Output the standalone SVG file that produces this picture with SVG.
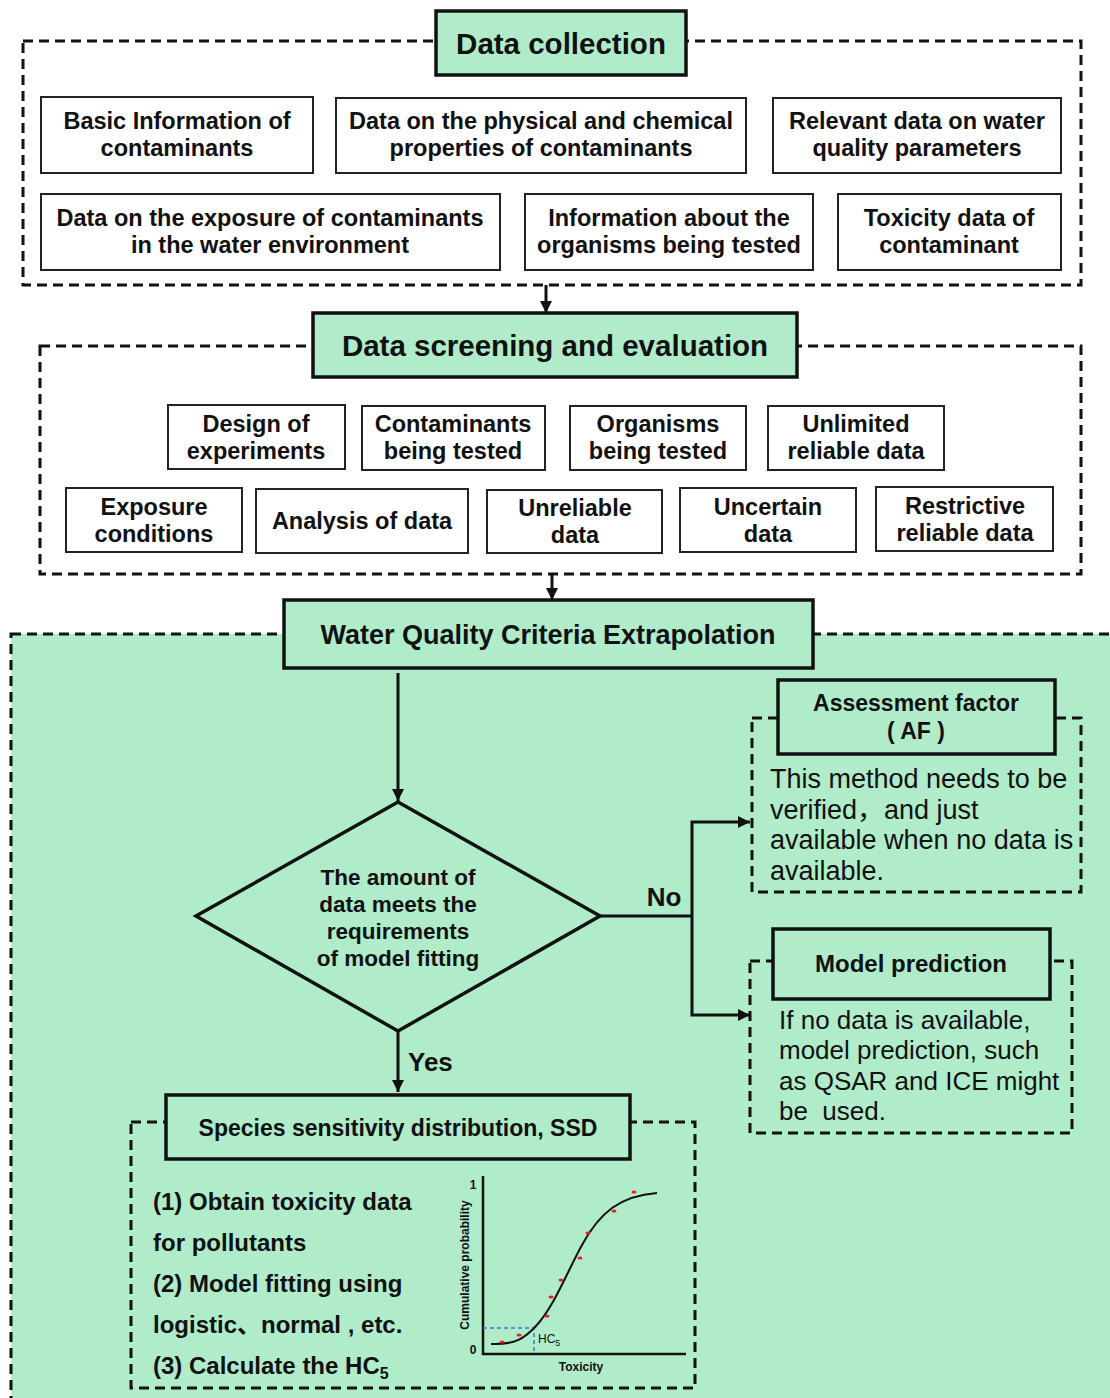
<svg xmlns="http://www.w3.org/2000/svg" width="1110" height="1398" viewBox="0 0 1110 1398">
<defs>
<marker id="ah" viewBox="0 0 10 10" refX="10" refY="5" markerWidth="4" markerHeight="4" orient="auto" markerUnits="strokeWidth">
<path d="M0,0 L10,5 L0,10 z" fill="#111"/>
</marker>
<style>
text{font-family:"Liberation Sans","Noto Sans CJK SC",sans-serif;fill:#111;text-anchor:middle}
.b{font-weight:bold;font-size:23.5px}
.t1{font-weight:bold;font-size:29.5px}
.t2{font-weight:bold;font-size:27px}
.t3{font-weight:bold;font-size:23px}
.dm{font-weight:bold;font-size:22.5px}
.body{font-size:27px;text-anchor:start}
.body2{font-size:26px;text-anchor:start}
.lst{font-weight:bold;font-size:24px;text-anchor:start}
.box{fill:#fff;stroke:#222;stroke-width:2}
.gbox{fill:#b0ecca;stroke:#111;stroke-width:3.5}
.dash{fill:none;stroke:#111;stroke-width:3;stroke-dasharray:10 6}
.line{fill:none;stroke:#111;stroke-width:3}
.sm{font-weight:bold;font-size:12px}
</style>
</defs>
<rect width="1110" height="1398" fill="#fff"/>

<g id="wqc-region">
<rect x="11" y="634" width="1110" height="780" fill="#b0ecca" stroke="#111" stroke-width="3" stroke-dasharray="10 6"/>
</g>

<g id="data-collection-group">
<rect class="dash" x="23" y="41" width="1058" height="244"/>
</g>
<g id="data-collection">
<rect class="gbox" x="436" y="11" width="250" height="64"/>
<text class="t1" x="561" y="54">Data collection</text>
</g>
<g id="basic-info"><rect class="box" x="41" y="97" width="272" height="76"/><text class="b" x="177" y="129">Basic Information of</text><text class="b" x="177" y="156">contaminants</text></g>
<g id="phys-chem"><rect class="box" x="336" y="98" width="410" height="75"/><text class="b" x="541" y="129">Data on the physical and chemical</text><text class="b" x="541" y="156">properties of contaminants</text></g>
<g id="water-quality"><rect class="box" x="773" y="98" width="288" height="75"/><text class="b" x="917" y="129">Relevant data on water</text><text class="b" x="917" y="156">quality parameters</text></g>
<g id="exposure-data"><rect class="box" x="41" y="194" width="459" height="76"/><text class="b" x="270" y="226">Data on the exposure of contaminants</text><text class="b" x="270" y="253">in the water environment</text></g>
<g id="organisms-info"><rect class="box" x="525" y="194" width="288" height="76"/><text class="b" x="669" y="226">Information about the</text><text class="b" x="669" y="253">organisms being tested</text></g>
<g id="toxicity-data"><rect class="box" x="838" y="194" width="223" height="76"/><text class="b" x="949" y="226">Toxicity data of</text><text class="b" x="949" y="253">contaminant</text></g>

<g id="screening-group">
<rect class="dash" x="40" y="346" width="1041" height="228"/>
</g>
<g id="data-screening">
<rect class="gbox" x="313" y="313" width="484" height="64"/>
<text class="t1" x="555" y="356">Data screening and evaluation</text>
</g>
<g id="design"><rect class="box" x="168" y="405" width="177" height="64"/><text class="b" x="256" y="432">Design of</text><text class="b" x="256" y="459">experiments</text></g>
<g id="contaminants-tested"><rect class="box" x="362" y="406" width="183" height="64"/><text class="b" x="453" y="432">Contaminants</text><text class="b" x="453" y="459">being tested</text></g>
<g id="organisms-tested"><rect class="box" x="570" y="406" width="176" height="64"/><text class="b" x="658" y="432">Organisms</text><text class="b" x="658" y="459">being tested</text></g>
<g id="unlimited"><rect class="box" x="768" y="406" width="176" height="64"/><text class="b" x="856" y="432">Unlimited</text><text class="b" x="856" y="459">reliable data</text></g>
<g id="exposure-cond"><rect class="box" x="66" y="488" width="176" height="64"/><text class="b" x="154" y="515">Exposure</text><text class="b" x="154" y="542">conditions</text></g>
<g id="analysis"><rect class="box" x="256" y="489" width="212" height="64"/><text class="b" x="362" y="529">Analysis of data</text></g>
<g id="unreliable"><rect class="box" x="487" y="490" width="175" height="63"/><text class="b" x="575" y="516">Unreliable</text><text class="b" x="575" y="543">data</text></g>
<g id="uncertain"><rect class="box" x="680" y="488" width="176" height="64"/><text class="b" x="768" y="515">Uncertain</text><text class="b" x="768" y="542">data</text></g>
<g id="restrictive"><rect class="box" x="876" y="487" width="177" height="64"/><text class="b" x="965" y="514">Restrictive</text><text class="b" x="965" y="541">reliable data</text></g>

<g id="wqc-title">
<rect class="gbox" x="284" y="600" width="529" height="68"/>
<text class="t2" x="548" y="644">Water Quality Criteria Extrapolation</text>
</g>

<g id="decision">
<polygon points="398,802 600,916 398,1031 196,916" fill="#b0ecca" stroke="#111" stroke-width="3.5"/>
<text class="dm" x="398" y="885">The amount of</text>
<text class="dm" x="398" y="912">data meets the</text>
<text class="dm" x="398" y="939">requirements</text>
<text class="dm" x="398" y="966">of model fitting</text>
</g>

<g id="af">
<rect class="dash" x="752" y="718" width="329" height="174"/>
<rect class="gbox" x="778" y="680" width="277" height="74"/>
<text class="t3" x="916" y="711">Assessment factor</text>
<text class="t3" x="916" y="739">( AF )</text>
<text class="body" x="770" y="788">This method needs to be</text>
<text class="body" x="770" y="819">verified，and just</text>
<text class="body" x="770" y="849">available when no data is</text>
<text class="body" x="770" y="880">available.</text>
</g>

<g id="model-prediction">
<rect class="dash" x="750" y="961" width="322" height="172"/>
<rect class="gbox" x="773" y="929" width="277" height="70"/>
<text class="t3" x="911" y="972" style="font-size:24px">Model prediction</text>
<text class="body2" x="779" y="1029">If no data is available,</text>
<text class="body2" x="779" y="1059">model prediction, such</text>
<text class="body2" x="779" y="1090">as QSAR and ICE might</text>
<text class="body2" x="779" y="1120">be&#160; used.</text>
</g>

<g id="ssd">
<rect class="dash" x="131" y="1122" width="564" height="266"/>
<rect class="gbox" x="166" y="1095" width="464" height="64"/>
<text class="t3" x="398" y="1136">Species sensitivity distribution, SSD</text>
<text class="lst" x="153" y="1210">(1) Obtain toxicity data</text>
<text class="lst" x="153" y="1251">for pollutants</text>
<text class="lst" x="153" y="1292">(2) Model fitting using</text>
<text class="lst" x="153" y="1333">logistic、normal , etc.</text>
<text class="lst" x="153" y="1374">(3) Calculate the HC<tspan font-size="16" dy="5">5</tspan></text>
</g>

<g id="ssd-chart">
<path d="M483,1176 V1354 H686" fill="none" stroke="#111" stroke-width="2.5"/>
<text class="sm" x="473" y="1189">1</text>
<text class="sm" x="473" y="1354">0</text>
<text class="sm" transform="translate(469,1265) rotate(-90)">Cumulative probability</text>
<text class="sm" x="581" y="1371">Toxicity</text>
<path d="M483,1328 H534 V1354" fill="none" stroke="#3a7bd5" stroke-width="1.5" stroke-dasharray="4 3"/>
<text x="538" y="1343" style="font-size:12px;text-anchor:start">HC<tspan font-size="9" dy="3">5</tspan></text>
<path d="M491,1344 C515,1345 525,1338 536,1326 C555,1305 568,1270 582,1245 C600,1212 620,1196 657,1193" fill="none" stroke="#111" stroke-width="2"/>
<g fill="#e8211d">
<ellipse cx="502" cy="1342" rx="2.5" ry="1.5"/>
<ellipse cx="519" cy="1335" rx="2.5" ry="1.5"/>
<ellipse cx="547" cy="1316" rx="2.5" ry="1.5"/>
<ellipse cx="551" cy="1297" rx="2.5" ry="1.5"/>
<ellipse cx="561" cy="1280" rx="2.5" ry="1.5"/>
<ellipse cx="580" cy="1258" rx="2.5" ry="1.5"/>
<ellipse cx="588" cy="1233" rx="2.5" ry="1.5"/>
<ellipse cx="614" cy="1211" rx="2.5" ry="1.5"/>
<ellipse cx="634" cy="1192" rx="2.5" ry="1.5"/>
</g>
</g>

<g id="connectors">
<line class="line" x1="546" y1="285" x2="546" y2="313" marker-end="url(#ah)"/>
<line class="line" x1="552" y1="574" x2="552" y2="600" marker-end="url(#ah)"/>
<line class="line" x1="398" y1="673" x2="398" y2="801" marker-end="url(#ah)"/>
<line class="line" x1="398" y1="1031" x2="398" y2="1092" marker-end="url(#ah)"/>
<polyline class="line" points="600,916 692,916"/>
<polyline class="line" points="692,916 692,822 750,822" marker-end="url(#ah)"/>
<polyline class="line" points="692,916 692,1015 750,1015" marker-end="url(#ah)"/>
<text class="t2" x="664" y="906" style="font-size:26px">No</text>
<text class="t2" x="408" y="1071" style="font-size:26px;text-anchor:start">Yes</text>
</g>
</svg>
